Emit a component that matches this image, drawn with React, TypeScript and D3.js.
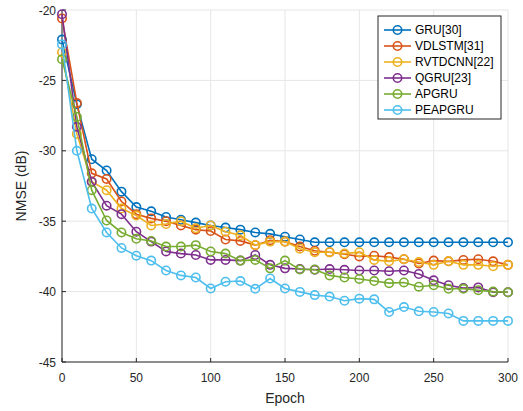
import React from "react";
import * as d3 from "d3";

const epochs = d3.range(0, 301, 10);
const seriesNames = ["GRU[30]", "VDLSTM[31]", "RVTDCNN[22]", "QGRU[23]", "APGRU", "PEAPGRU"];
const seriesColors = ["#0072BD", "#D95319", "#EDB120", "#7E2F8E", "#77AC30", "#4DBEEE"];

const gru = [-22.1, -26.7, -30.6, -31.4, -32.9, -34.0, -34.3, -34.7, -34.9, -35.1, -35.3, -35.45, -35.6, -35.8, -35.9, -36.1, -36.3, -36.5, -36.5, -36.5, -36.5, -36.5, -36.5, -36.5, -36.5, -36.5, -36.5, -36.5, -36.5, -36.5, -36.5];
const vdlstm = [-20.6, -26.6, -31.6, -32.0, -33.6, -34.5, -34.8, -35.0, -35.3, -35.6, -35.7, -36.3, -36.4, -36.7, -36.35, -36.45, -36.8, -37.1, -37.2, -37.35, -37.5, -37.45, -37.55, -37.7, -38.0, -37.8, -37.85, -37.75, -37.7, -37.85, -38.1];
const rvtdcnn = [-23.0, -28.8, -32.2, -32.8, -34.1, -34.6, -35.3, -35.2, -35.0, -35.5, -35.3, -35.75, -36.0, -36.7, -36.45, -36.45, -36.95, -37.2, -37.2, -37.3, -37.2, -37.75, -37.85, -37.7, -37.9, -38.1, -37.85, -38.1, -38.1, -38.2, -38.1];
const qgru = [-20.3, -28.3, -32.2, -33.9, -34.5, -35.75, -36.45, -37.15, -37.3, -37.4, -37.75, -37.75, -37.8, -37.4, -38.1, -38.35, -38.4, -38.45, -38.4, -38.45, -38.5, -38.5, -38.55, -38.5, -38.75, -39.2, -39.55, -39.75, -39.7, -40.05, -40.05];
const apgru = [-23.5, -27.6, -32.8, -34.95, -35.8, -36.25, -36.4, -36.8, -36.8, -36.7, -37.15, -37.3, -37.8, -37.75, -38.35, -37.8, -38.43, -38.43, -38.85, -39.0, -39.1, -39.25, -39.4, -39.35, -39.65, -39.55, -39.8, -39.8, -39.9, -40.0, -40.05];
const peapgru = [-22.45, -30.0, -34.1, -35.8, -36.9, -37.45, -37.8, -38.5, -38.85, -39.0, -39.78, -39.3, -39.25, -39.8, -39.07, -39.78, -40.02, -40.25, -40.35, -40.65, -40.5, -40.55, -41.45, -41.1, -41.4, -41.45, -41.55, -42.08, -42.08, -42.08, -42.08];

const seriesValues = [gru, vdlstm, rvtdcnn, qgru, apgru, peapgru];
const xTicks = [0, 50, 100, 150, 200, 250, 300];
const yTicks = [-20, -25, -30, -35, -40, -45];

const W = 523, H = 411;
const L = 62, R = 508, T = 10, B = 362;
const FONT = "Liberation Sans, Arial, Helvetica, sans-serif";
const AX = "#262626";

export default function App() {
  const x = d3.scaleLinear().domain([0, 300]).range([L, R]);
  const y = d3.scaleLinear().domain([-45, -20]).range([B, T]);
  const line = d3.line<number>().x((_, i) => x(epochs[i])).y((v) => y(v));

  const legX = 378, legY = 16, legW = 123, legH = 103;

  return (
    <svg width={W} height={H} style={{ position: "absolute", left: 0, top: 0, background: "#fff" }} fontFamily={FONT}>
      <rect x={0} y={0} width={W} height={H} fill="#fff" />
      {/* grid */}
      {xTicks.map((t) => (
        <line key={"gx" + t} x1={x(t)} x2={x(t)} y1={T} y2={B} stroke="#e6e6e6" strokeWidth={1} />
      ))}
      {yTicks.map((t) => (
        <line key={"gy" + t} x1={L} x2={R} y1={y(t)} y2={y(t)} stroke="#e6e6e6" strokeWidth={1} />
      ))}
      {/* axes */}
      <line x1={L} x2={L} y1={T} y2={B} stroke={AX} strokeWidth={1} />
      <line x1={L} x2={R} y1={B} y2={B} stroke={AX} strokeWidth={1} />
      {xTicks.map((t) => (
        <g key={"xt" + t}>
          <line x1={x(t)} x2={x(t)} y1={B} y2={B - 4} stroke={AX} />
          <text x={x(t)} y={382} fontSize={12} textAnchor="middle" fill={AX}>{t}</text>
        </g>
      ))}
      {yTicks.map((t) => (
        <g key={"yt" + t}>
          <line x1={L} x2={L + 4} y1={y(t)} y2={y(t)} stroke={AX} />
          <text x={L - 6} y={y(t) + 4.5} fontSize={12} textAnchor="end" fill={AX}>{t}</text>
        </g>
      ))}
      <text x={(L + R) / 2} y={403} fontSize={14} textAnchor="middle" fill={AX}>Epoch</text>
      <text transform={`translate(26,${(T + B) / 2}) rotate(-90)`} fontSize={14} textAnchor="middle" fill={AX}>NMSE (dB)</text>
      {/* series */}
      {seriesValues.map((vals, si) => (
        <g key={"s" + si}>
          <path d={line(vals) || ""} fill="none" stroke={seriesColors[si]} strokeWidth={1.6} />
          {vals.map((v, i) => (
            <circle key={i} cx={x(epochs[i])} cy={y(v)} r={4.2} fill="none" stroke={seriesColors[si]} strokeWidth={1.6} />
          ))}
        </g>
      ))}
      {/* legend */}
      <rect x={legX} y={legY} width={legW} height={legH} fill="#fff" stroke={AX} strokeWidth={1} />
      {seriesNames.map((n, i) => {
        const cy = 30 + i * 16;
        return (
          <g key={"l" + i}>
            <line x1={384} x2={411} y1={cy} y2={cy} stroke={seriesColors[i]} strokeWidth={1.6} />
            <circle cx={397.5} cy={cy} r={4.2} fill="none" stroke={seriesColors[i]} strokeWidth={1.6} />
            <text x={415} y={cy + 4.3} fontSize={12} fill="#000">{n}</text>
          </g>
        );
      })}
    </svg>
  );
}
